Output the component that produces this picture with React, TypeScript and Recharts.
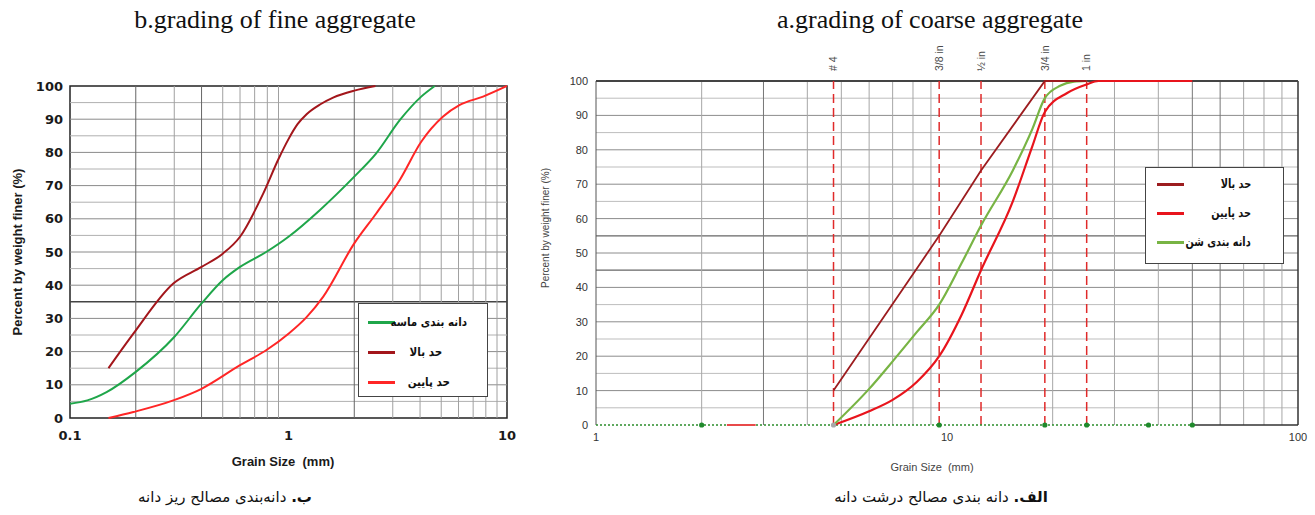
import React from 'react';
import { LineChart, Line, XAxis, YAxis, ReferenceLine, ReferenceArea } from 'recharts';

// ---------------- fine aggregate (left chart) ----------------
const fineGradSize = [0.1, 0.12, 0.147, 0.2, 0.3, 0.4, 0.5, 0.6, 0.79, 1.0, 1.39, 2.0, 2.52, 3.23, 4.05, 4.67];
const fineGradPct = [4.3, 5.3, 7.8, 13.9, 24.4, 34.5, 41.5, 45.5, 50, 54.6, 62.6, 72.7, 79.7, 89.7, 96.8, 100];
const fineUpperSize = [0.15, 0.195, 0.297, 0.4, 0.5, 0.6, 0.766, 0.9, 1.0, 1.1, 1.21, 1.4, 1.6, 2.0, 2.5];
const fineUpperPct = [15, 25.4, 40.5, 45.5, 49.5, 54.6, 67.6, 78, 84, 88.5, 91.5, 94.5, 96.5, 98.6, 100];
const fineLowerSize = [0.15, 0.195, 0.297, 0.4, 0.6, 0.79, 1.0, 1.21, 1.44, 2.0, 2.52, 3.23, 4.05, 5.1, 6.08, 7.77, 10];
const fineLowerPct = [0, 1.8, 5.3, 8.8, 15.9, 20.4, 25.4, 30.4, 36.5, 52.6, 61.6, 71.7, 83.2, 90.8, 94.3, 96.8, 100];
const fineTicksX = [0.1, 1, 10];
const fineGridX = [0.2, 0.3, 0.4, 0.5, 0.6, 0.7, 0.8, 0.9, 2, 3, 4, 5, 6, 7, 8, 9];

// ---------------- coarse aggregate (right chart) ----------------
const coarseUpperSize = [4.75, 9.5, 12.5, 19, 25];
const coarseUpperPct = [10, 55, 74, 100, 100];
const coarseGradSize = [4.75, 6, 7, 8.2, 9.5, 11, 12.5, 15.4, 17.5, 19, 21, 23, 25];
const coarseGradPct = [0, 10.5, 18.5, 27, 35, 47, 58, 74, 86, 95, 98.6, 99.8, 100];
const coarseLowerSize = [4.75, 6, 7, 8.2, 9.5, 11, 12.5, 15.4, 17.5, 19, 22, 25, 27, 50];
const coarseLowerPct = [0, 4, 7.3, 12.5, 20, 32, 45, 65, 81, 91, 96.5, 99, 100, 100];
const coarseBaseSize = [1, 2, 4.75, 9.5, 19, 25, 37.5, 50];
const coarseBasePct = [0, 0, 0, 0, 0, 0, 0, 0];
const coarseStubSize = [2.36, 2.85];
const coarseStubPct = [0, 0];
const coarseTicksX = [1, 10, 100];
const coarseGridX = [2, 3, 4, 5, 6, 7, 8, 9, 20, 30, 40, 50, 60, 70, 80, 90];
const sieveSizes = [4.75, 9.5, 12.5, 19, 25];
const sieveLabels = ['# 4', '3/8 in', '½ in', '3/4 in', '1 in'];

const pctTicks = [0, 10, 20, 30, 40, 50, 60, 70, 80, 90, 100];
const pctGrid = [5, 10, 15, 20, 25, 30, 35, 40, 45, 50, 55, 60, 65, 70, 75, 80, 85, 90, 95];

// legend labels
const fineLegend = ['دانه بندی ماسه', 'حد بالا', 'حد پایین'];
const coarseLegend = ['حد بالا', 'حد پایین', 'دانه بندی شن'];

const zip = (xs: number[], ys: number[]) => xs.map((x, i) => ({ x, y: ys[i] }));

const fineGrad = zip(fineGradSize, fineGradPct);
const fineUpper = zip(fineUpperSize, fineUpperPct);
const fineLower = zip(fineLowerSize, fineLowerPct);
const coarseUpper = zip(coarseUpperSize, coarseUpperPct);
const coarseGrad = zip(coarseGradSize, coarseGradPct);
const coarseLower = zip(coarseLowerSize, coarseLowerPct);
const coarseBase = zip(coarseBaseSize, coarseBasePct);
const coarseStub = zip(coarseStubSize, coarseStubPct);

const C_FINE_GREEN = '#1fa64a';
const C_FINE_UPPER = '#a3161b';
const C_FINE_LOWER = '#ff2626';
const C_CO_GREEN = '#78b444';
const C_CO_UPPER = '#9c1c1f';
const C_CO_LOWER = '#e8141c';

const persianFont = "'DejaVu Sans', sans-serif";

const SieveTick = (props: any) => {
  const { x, y, payload } = props;
  const idx = sieveSizes.indexOf(payload.value);
  const tx = x;
  const ty = y - 2;
  return (
    <text x={tx} y={ty} transform={`rotate(-90 ${tx} ${ty})`} dy="0.35em" textAnchor="start"
      fontSize={10.5} fontFamily="'Liberation Sans', Arial, sans-serif" fill="#4a4a4a">
      {sieveLabels[idx]}
    </text>
  );
};

const BaseDot = (props: any) => {
  const { cx, cy, payload, index } = props;
  if (payload.x === 1) return <g key={`bd${index}`} />;
  const fill = payload.x === 4.75 ? '#a8a8a8' : '#1f8a2c';
  return <circle key={`bd${index}`} cx={cx} cy={cy} r={2.6} fill={fill} stroke="none" />;
};

const LegendRow = ({ color, label, textRight, width, y, lineX, lineW, fontSize, squeeze }: any) => (
  <div style={{ position: 'absolute', top: y, left: 0, width, height: 0 }}>
    <div style={{ position: 'absolute', left: lineX, top: -1.5, width: lineW, height: 3, background: color }} />
    <div style={{ position: 'absolute', right: textRight, top: -10, height: 20, lineHeight: '20px', direction: 'rtl',
      fontFamily: persianFont, fontWeight: 'bold', fontSize, color: '#111', whiteSpace: 'nowrap',
      transform: `scaleX(${squeeze})`, transformOrigin: 'right center' }}>{label}</div>
  </div>
);

export default function App() {
  const fineColors = [C_FINE_GREEN, C_FINE_UPPER, C_FINE_LOWER];
  const coarseColors = [C_CO_UPPER, C_CO_LOWER, C_CO_GREEN];
  return (
    <div style={{ position: 'absolute', left: 0, top: 0, width: 1315, height: 515, background: '#fff', overflow: 'hidden' }}>
      {/* titles */}
      <div style={{ position: 'absolute', left: 275, top: 20, transform: 'translate(-50%, -50%)', whiteSpace: 'nowrap',
        fontFamily: "'Liberation Serif', 'Times New Roman', serif", fontSize: 26, color: '#111' }}>
        b.grading of fine aggregate
      </div>
      <div style={{ position: 'absolute', left: 930, top: 20, transform: 'translate(-50%, -50%)', whiteSpace: 'nowrap',
        fontFamily: "'Liberation Serif', 'Times New Roman', serif", fontSize: 26, color: '#111' }}>
        a.grading of coarse aggregate
      </div>

      {/* left chart */}
      <div style={{ position: 'absolute', left: 0, top: 0 }}>
        <LineChart width={520} height={470} margin={{ top: 86, right: 13, bottom: 22, left: 30 }}>
          <XAxis type="number" dataKey="x" scale="log" domain={[0.1, 10]} allowDataOverflow ticks={fineTicksX}
            tickFormatter={(v: number) => String(v)} axisLine={false} tickLine={false} height={30} tickMargin={7}
            tick={{ fontFamily: "'DejaVu Sans', sans-serif", fontWeight: 'bold', fontSize: 13, fill: '#1a1a1a' }} />
          <YAxis type="number" domain={[0, 100]} ticks={pctTicks} axisLine={false} tickLine={false} width={40} tickMargin={1}
            tick={{ fontFamily: "'DejaVu Sans', sans-serif", fontWeight: 'bold', fontSize: 13, fill: '#1a1a1a' }} />
          {pctGrid.map((v) => (
            <ReferenceLine key={`fy${v}`} y={v} stroke={v === 35 ? '#444' : v % 10 === 0 ? '#8a8a8a' : '#b0b0b0'} strokeWidth={v === 35 ? 1.5 : 1} />
          ))}
          {fineGridX.map((v) => (
            <ReferenceLine key={`fx${v}`} x={v} stroke={v === 0.2 || v === 2 || v === 0.4 ? '#666' : '#a0a0a0'} strokeWidth={1} />
          ))}
          <ReferenceArea x1={0.1} x2={10} y1={0} y2={100} fill="none" fillOpacity={0} stroke="#222" strokeWidth={1.5} ifOverflow="visible" />
          <Line data={fineLower} dataKey="y" type="monotone" stroke={C_FINE_LOWER} strokeWidth={2} dot={false} isAnimationActive={false} />
          <Line data={fineGrad} dataKey="y" type="monotone" stroke={C_FINE_GREEN} strokeWidth={2} dot={false} isAnimationActive={false} />
          <Line data={fineUpper} dataKey="y" type="monotone" stroke={C_FINE_UPPER} strokeWidth={2} dot={false} isAnimationActive={false} />
        </LineChart>
      </div>
      {/* left axis labels */}
      <div style={{ position: 'absolute', left: 17, top: 252, transform: 'translate(-50%, -50%) rotate(-90deg)', whiteSpace: 'nowrap',
        fontFamily: "'Liberation Sans', Arial, sans-serif", fontWeight: 'bold', fontSize: 13, color: '#1a1a1a' }}>
        Percent by weight finer (%)
      </div>
      <div style={{ position: 'absolute', left: 283, top: 461, transform: 'translate(-50%, -50%)', whiteSpace: 'nowrap',
        fontFamily: "'Liberation Sans', Arial, sans-serif", fontWeight: 'bold', fontSize: 13, color: '#1a1a1a' }}>
        Grain Size&nbsp;&nbsp;(mm)
      </div>
      {/* left legend */}
      <div style={{ position: 'absolute', left: 358, top: 303, width: 130, height: 94, boxSizing: 'border-box',
        border: '1.5px solid #444', background: '#fff' }}>
        {fineLegend.map((l, i) => (
          <LegendRow key={l} color={fineColors[i]} label={l} width={127} y={18 + i * 30} lineX={9} lineW={27}
            textRight={i === 0 ? 19 : i === 1 ? 44 : 36} fontSize={11.5} squeeze={0.9} />
        ))}
      </div>

      {/* right chart */}
      <div style={{ position: 'absolute', left: 540, top: 0 }}>
        <LineChart width={775} height={470} margin={{ top: 41, right: 17, bottom: 20, left: 16 }}>
          <XAxis xAxisId={0} type="number" dataKey="x" scale="log" domain={[1, 100]} allowDataOverflow ticks={coarseTicksX}
            tickFormatter={(v: number) => String(v)} axisLine={false} tickLine={false} height={25} tickMargin={2}
            tick={{ fontFamily: "'Liberation Sans Narrow', 'Liberation Sans', sans-serif", fontSize: 11, fill: '#333' }} />
          <XAxis xAxisId="top" orientation="top" type="number" dataKey="x" scale="log" domain={[1, 100]} allowDataOverflow
            ticks={sieveSizes} axisLine={false} tickLine={false} height={40} tickMargin={2} tick={<SieveTick />} />
          <YAxis type="number" domain={[0, 100]} ticks={pctTicks} axisLine={false} tickLine={false} width={40} tickMargin={2}
            tick={{ fontFamily: "'Liberation Sans Narrow', 'Liberation Sans', sans-serif", fontSize: 11, fill: '#333' }} />
          {pctGrid.map((v) => (
            <ReferenceLine key={`cy${v}`} y={v} stroke={v === 45 || v === 55 ? '#666' : v % 10 === 0 ? '#8c8c8c' : '#bdbdbd'} strokeWidth={v === 45 || v === 55 ? 1.3 : 1} />
          ))}
          {coarseGridX.map((v) => (
            <ReferenceLine key={`cx${v}`} x={v} stroke={v === 3 || v === 50 || v === 60 ? '#777' : '#a6a6a6'} strokeWidth={1} />
          ))}
          <ReferenceLine x={1} stroke="#555" strokeWidth={1} />
          <ReferenceLine x={100} stroke="#333" strokeWidth={1.5} />
          <ReferenceLine y={100} stroke="#444" strokeWidth={2} />
          <ReferenceLine segment={[{ x: 50, y: 0 }, { x: 100, y: 0 }]} stroke="#333" strokeWidth={1.5} />
          {sieveSizes.map((v) => (
            <ReferenceLine key={`sv${v}`} x={v} stroke="#e02a2a" strokeWidth={1.5} strokeDasharray="9 5" />
          ))}
          <Line data={coarseBase} dataKey="y" type="linear" stroke="#2b8c2b" strokeWidth={1.3} strokeDasharray="2 2"
            dot={<BaseDot />} isAnimationActive={false} />
          <Line data={coarseStub} dataKey="y" type="linear" stroke="#e84a4a" strokeWidth={2} dot={false} isAnimationActive={false} />
          <Line data={coarseLower} dataKey="y" type="monotone" stroke={C_CO_LOWER} strokeWidth={2.2} dot={false} isAnimationActive={false} />
          <Line data={coarseGrad} dataKey="y" type="monotone" stroke={C_CO_GREEN} strokeWidth={2.2} dot={false} isAnimationActive={false} />
          <Line data={coarseUpper} dataKey="y" type="linear" stroke={C_CO_UPPER} strokeWidth={1.8} dot={false} isAnimationActive={false} />
        </LineChart>
      </div>
      {/* right axis labels */}
      <div style={{ position: 'absolute', left: 545, top: 228, transform: 'translate(-50%, -50%) rotate(-90deg)', whiteSpace: 'nowrap',
        fontFamily: "'Liberation Sans', Arial, sans-serif", fontSize: 10, color: '#444' }}>
        Percent by weight finer (%)
      </div>
      <div style={{ position: 'absolute', left: 932, top: 467, transform: 'translate(-50%, -50%)', whiteSpace: 'nowrap',
        fontFamily: "'Liberation Sans Narrow', 'Liberation Sans', sans-serif", fontSize: 11, color: '#444' }}>
        Grain Size&nbsp;&nbsp;(mm)
      </div>
      {/* right legend */}
      <div style={{ position: 'absolute', left: 1145, top: 167, width: 139, height: 97, boxSizing: 'border-box',
        border: '1.5px solid #444', background: '#fff' }}>
        {coarseLegend.map((l, i) => (
          <LegendRow key={l} color={coarseColors[i]} label={l} width={136} y={16 + i * 29} lineX={11} lineW={27}
            textRight={31} fontSize={12.5} squeeze={0.78} />
        ))}
      </div>

      {/* captions */}
      <div style={{ position: 'absolute', left: 225, top: 497, transform: 'translate(-50%, -50%)', whiteSpace: 'nowrap', direction: 'rtl',
        fontFamily: persianFont, fontSize: 15, color: '#111' }}>
        <b>ب.</b> دانه‌بندی مصالح ریز دانه
      </div>
      <div style={{ position: 'absolute', left: 941, top: 497, transform: 'translate(-50%, -50%)', whiteSpace: 'nowrap', direction: 'rtl',
        fontFamily: persianFont, fontSize: 15, color: '#111' }}>
        <b>الف.</b> دانه بندی مصالح درشت دانه
      </div>
    </div>
  );
}
